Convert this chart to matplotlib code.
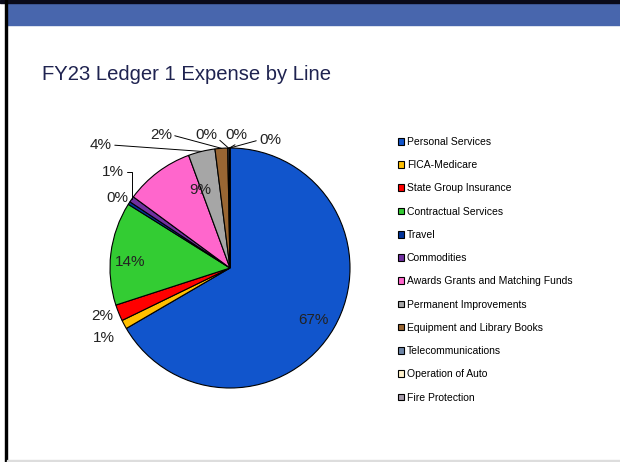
import matplotlib
matplotlib.use("Agg")
import matplotlib.pyplot as plt
import matplotlib.patches as mpatches
import numpy as np

categories = ["Personal Services", "FICA-Medicare", "State Group Insurance",
              "Contractual Services", "Travel", "Commodities",
              "Awards Grants and Matching Funds", "Permanent Improvements",
              "Equipment and Library Books", "Telecommunications",
              "Operation of Auto", "Fire Protection"]
values = [66.6, 1.2, 2.2, 13.9, 0.4, 0.8, 9.3, 3.6, 1.7, 0.2, 0.05, 0.05]
colors = ["#1155CC", "#FFC000", "#FF0000", "#33CC33", "#003399", "#7030A0",
          "#FF66CC", "#A6A6A6", "#996633", "#6F87A8", "#FFF2CC", "#A69BAA"]

plt.rcParams['font.family'] = ['Liberation Sans', 'DejaVu Sans']

W, H = 620, 462
fig = plt.figure(figsize=(W / 100, H / 100), dpi=100)

# frame decorations
fig.patches.append(mpatches.Rectangle((7 / W, 1 - 25 / H), 1, 22 / H, transform=fig.transFigure,
                                      color="#4866AD", zorder=0))
fig.patches.append(mpatches.Rectangle((0, 1 - 3 / H), 1, 3 / H, transform=fig.transFigure,
                                      color="#0A0A1A", zorder=0))
fig.patches.append(mpatches.Rectangle((5 / W, 0), 2 / W, 1, transform=fig.transFigure,
                                      color="#000000", zorder=0))
fig.patches.append(mpatches.Rectangle((7 / W, 0), 1, 2 / H, transform=fig.transFigure,
                                      color="#DDDDDD", zorder=0))

fig.text(42 / W, 1 - 75 / H, "FY23 Ledger 1 Expense by Line", fontsize=14.6,
         color="#1F2350", va="center", ha="left")

# pie
cx, cy, r = 230, 268, 120
ax = fig.add_axes([(cx - r) / W, (H - cy - r) / H, 2 * r / W, 2 * r / H])
wedges, _ = ax.pie(values, colors=colors, startangle=90, counterclock=False,
                   wedgeprops=dict(edgecolor="black", linewidth=0.8))
ax.set_xlim(-1, 1)
ax.set_ylim(-1, 1)
ax.set_aspect("equal")
ax.axis("off")

pct = [f"{round(v)}%" for v in values]

def px(x, y):
    return ((x - cx) / r, (cy - y) / r)

# label positions (pixel coords of text centre), leader flag
label_pos = [
    (313, 320, False),  # Personal
    (104, 338, False),  # FICA
    (102, 316, False),  # State
    (130, 262, False),  # Contractual
    (117, 198, False),  # Travel
    (113, 172, True),   # Commodities
    (200, 190, False),  # Awards
    (101, 145, True),   # Permanent
    (161, 135, True),   # Equipment
    (206, 135, True),   # Telecom
    (236, 135, True),   # Auto
    (270, 140, True),   # Fire
]

for i, (w, (lx, ly, lead)) in enumerate(zip(wedges, label_pos)):
    tx, ty = px(lx, ly)
    if lead:
        ang = np.deg2rad((w.theta1 + w.theta2) / 2)
        ex, ey = np.cos(ang), np.sin(ang)
        if i == 5:
            ax.annotate(pct[i], xy=(ex, ey), xytext=(tx, ty), ha="center", va="center",
                        fontsize=11, color="#222222", annotation_clip=False,
                        arrowprops=dict(arrowstyle="-", color="black", lw=0.7,
                                        connectionstyle="angle,angleA=0,angleB=90,rad=0",
                                        shrinkA=0, shrinkB=0, relpos=(1, 0.5)))
        else:
            rp = (0, 0.5) if i == 11 else (1, 0.5)
            if i in (9, 10):
                rp = (1, 0.3)
            ax.annotate(pct[i], xy=(ex, ey), xytext=(tx, ty), ha="center", va="center",
                        fontsize=11, color="#222222", annotation_clip=False,
                        arrowprops=dict(arrowstyle="-", color="black", lw=0.7,
                                        shrinkA=0, shrinkB=0, relpos=rp))
    else:
        ax.text(tx, ty, pct[i], ha="center", va="center", fontsize=11, color="#222222")

# legend
handles = [mpatches.Patch(facecolor=c, edgecolor="black", linewidth=0.8) for c in colors]
fig.legend(handles, categories, loc="upper left", bbox_to_anchor=(398 / W, 1 - 137 / H),
           frameon=False, fontsize=7.5, handlelength=0.6, handleheight=0.6,
           handletextpad=0.25, labelspacing=1.27, borderpad=0, borderaxespad=0)

fig.savefig("out.png", dpi=100)
